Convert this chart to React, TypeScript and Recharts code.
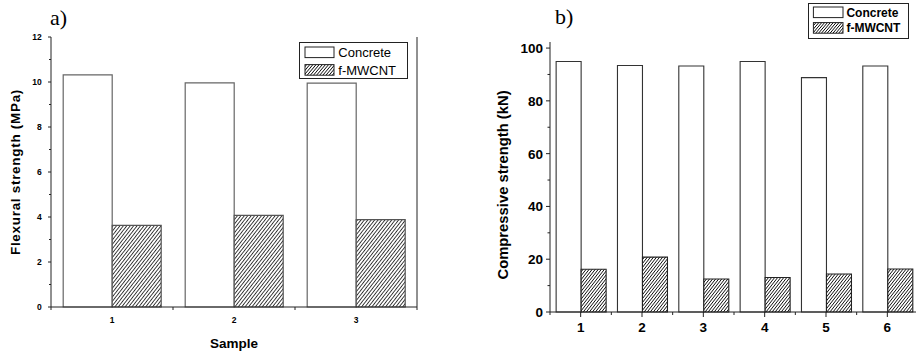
import { BarChart, Bar, XAxis, YAxis, Legend } from 'recharts';

// a) flexural strength
const samplesA = ['1', '2', '3'];
const concreteA = [10.32, 9.96, 9.95];
const mwcntA = [3.63, 4.07, 3.88];
const ticksA = [0, 1, 2, 3, 4, 5, 6, 7, 8, 9, 10, 11, 12];

// b) compressive strength
const samplesB = ['1', '2', '3', '4', '5', '6'];
const concreteB = [94.9, 93.4, 93.2, 94.9, 88.8, 93.2];
const mwcntB = [16.2, 20.8, 12.5, 13.1, 14.4, 16.3];
const ticksB = [0, 10, 20, 30, 40, 50, 60, 70, 80, 90, 100];

const seriesNames = ['Concrete', 'f-MWCNT'];

const dataA = samplesA.map((s, i) => ({ sample: s, concrete: concreteA[i], mwcnt: mwcntA[i] }));
const dataB = samplesB.map((s, i) => ({ sample: s, concrete: concreteB[i], mwcnt: mwcntB[i] }));

const FONT = '"Liberation Sans", Arial, sans-serif';
const AXIS = '#222';

const Hatch = ({ id, w, angle }: { id: string; w: number; angle: number }) => (
  <pattern id={id} patternUnits="userSpaceOnUse" width={w} height={w} patternTransform={`rotate(${angle})`}>
    <rect width={w} height={w} fill="#fff" />
    <line x1={w / 2} y1={0} x2={w / 2} y2={w} stroke="#000" strokeWidth={0.75} />
  </pattern>
);

const leftTick = (major: number, len: number, minor: number, fs: number, gap: number) => (p: any) => {
  const v = p.payload.value;
  const isMajor = v % major === 0;
  return (
    <g>
      <line x1={p.x} x2={p.x - (isMajor ? len : minor)} y1={p.y} y2={p.y} stroke={AXIS} />
      {isMajor && (
        <text x={p.x - gap} y={p.y} dy="0.36em" textAnchor="end" fontSize={fs} fontWeight="bold" fontFamily={FONT} fill="#000">
          {v}
        </text>
      )}
    </g>
  );
};

const rightTick = (major: number, len: number, minor: number) => (p: any) => {
  const isMajor = p.payload.value % major === 0;
  return <line x1={p.x} x2={p.x - (isMajor ? len : minor)} y1={p.y} y2={p.y} stroke={AXIS} />;
};

const bottomTick = (band: number, centerLen: number, edgeLen: number, fs: number, dy: number) => (p: any) => (
  <g>
    {centerLen > 0 && <line x1={p.x} x2={p.x} y1={p.y} y2={p.y + centerLen} stroke={AXIS} />}
    {p.index === 0 && <line x1={p.x - band / 2} x2={p.x - band / 2} y1={p.y} y2={p.y + edgeLen} stroke={AXIS} />}
    <line x1={p.x + band / 2} x2={p.x + band / 2} y1={p.y} y2={p.y + edgeLen} stroke={AXIS} />
    <text x={p.x} y={p.y + dy} textAnchor="middle" fontSize={fs} fontWeight="bold" fontFamily={FONT} fill="#000">
      {p.payload.value}
    </text>
  </g>
);

const topTick = (band: number, len: number) => (p: any) => (
  <g>
    <line x1={p.x} x2={p.x} y1={p.y} y2={p.y + len} stroke={AXIS} />
    <line x1={p.x + band / 2} x2={p.x + band / 2} y1={p.y} y2={p.y + len} stroke={AXIS} />
  </g>
);

const YTitle = ({ viewBox, text, cx, dy, fs, ls = 0 }: any) => {
  const x = viewBox.x + cx;
  const y = viewBox.y + viewBox.height / 2 + dy;
  return (
    <text x={x} y={y} transform={`rotate(-90 ${x} ${y})`} textAnchor="middle" dominantBaseline="central"
      fontSize={fs} fontWeight="bold" fontFamily={FONT} fill="#000" letterSpacing={ls}>
      {text}
    </text>
  );
};

const XTitle = ({ viewBox, text, dy, fs }: any) => (
  <text x={viewBox.x + viewBox.width / 2} y={viewBox.y + dy} textAnchor="middle"
    fontSize={fs} fontWeight="bold" fontFamily={FONT} fill="#000">
    {text}
  </text>
);

const LegendBox = ({ w, h, sx, sw, sh, rows, tx, fs, weight, hatchW }: any) => (
  <svg width={w} height={h} style={{ display: 'block' }}>
    <defs>
      <Hatch id={`lg${hatchW}`} w={hatchW} angle={40} />
    </defs>
    <rect x={0.5} y={0.5} width={w - 1} height={h - 1} fill="#fff" stroke={AXIS} />
    {seriesNames.map((n, i) => (
      <g key={n}>
        <rect x={sx} y={rows[i]} width={sw} height={sh} fill={i === 0 ? '#fff' : `url(#lg${hatchW})`} stroke={AXIS} />
        <text x={tx} y={rows[i] + sh / 2} dy="0.36em" fontSize={fs} fontWeight={weight} fontFamily={FONT} fill="#000">
          {n}
        </text>
      </g>
    ))}
  </svg>
);

export default function App() {
  return (
    <div style={{ position: 'fixed', left: 0, top: 0, width: 916, height: 353, overflow: 'hidden', background: '#fff' }}>
      <svg width={916} height={353} style={{ position: 'absolute', left: 0, top: 0 }}>
        <text x={50} y={25} fontSize={22} fontFamily='"Liberation Serif", "Times New Roman", serif'>a)</text>
        <text x={555} y={24} fontSize={22} fontFamily='"Liberation Serif", "Times New Roman", serif'>b)</text>
      </svg>

      <div style={{ position: 'absolute', left: 0, top: 0 }}>
        <BarChart width={460} height={353} data={dataA} margin={{ top: 37, right: 0, bottom: 0, left: 0 }}
          barCategoryGap="10%" barGap={0}>
          <defs>
            <Hatch id="hatchA" w={2.7} angle={38} />
          </defs>
          <XAxis dataKey="sample" height={46} interval={0} tickSize={0} tickMargin={0} tickLine={false}
            axisLine={{ stroke: AXIS }} tick={bottomTick(122, 0, 3, 8.5, 15.9)}
            label={<XTitle text="Sample" dy={40.7} fs={13.5} />} />
          <XAxis xAxisId="t" orientation="top" dataKey="sample" height={0} interval={0} tickSize={0} tickMargin={0}
            tickLine={false} axisLine={{ stroke: AXIS }} tick={topTick(122, 2)} />
          <YAxis type="number" domain={[0, 12]} ticks={ticksA} width={51} interval={0} tickSize={0} tickMargin={0}
            tickLine={false} axisLine={{ stroke: AXIS }} tick={leftTick(2, 3, 2, 8.5, 9.3)}
            label={<YTitle text="Flexural strength (MPa)" cx={15} dy={0} fs={13.5} ls={0.7} />} />
          <YAxis yAxisId="r" orientation="right" type="number" domain={[0, 12]} ticks={ticksA} width={43} interval={0}
            tickSize={0} tickMargin={0} tickLine={false} axisLine={{ stroke: AXIS }} tick={rightTick(2, 3, 3)} />
          <Legend layout="horizontal" verticalAlign="middle" align="center"
            wrapperStyle={{ left: 299, top: 41.7, width: 109, height: 37 }}
            content={() => <LegendBox w={109} h={37} sx={6} sw={29} sh={10.6} rows={[5, 22.6]} tx={39.3} fs={13} weight="normal" hatchW={2.4} />} />
          <Bar dataKey="concrete" name={seriesNames[0]} fill="#fff" stroke="#666" strokeWidth={1.2} isAnimationActive={false} />
          <Bar dataKey="mwcnt" name={seriesNames[1]} fill="url(#hatchA)" stroke="#555" strokeWidth={1.2} isAnimationActive={false} />
        </BarChart>
      </div>

      <div style={{ position: 'absolute', left: 460, top: 0 }}>
        <BarChart width={470} height={353} data={dataB} margin={{ top: 42, right: 0, bottom: 0, left: 0 }}
          barCategoryGap="10%" barGap={0}>
          <defs>
            <Hatch id="hatchB" w={2.4} angle={38} />
          </defs>
          <XAxis dataKey="sample" height={41} interval={0} tickSize={0} tickMargin={0} tickLine={false}
            axisLine={{ stroke: AXIS }} tick={bottomTick(368 / 6, 5, 3, 13.5, 19.8)} />
          <XAxis xAxisId="t" orientation="top" dataKey="sample" height={0} interval={0} tickSize={0} tickMargin={0}
            tickLine={false} axisLine={{ stroke: AXIS }} tick={topTick(368 / 6, 3)} />
          <YAxis type="number" domain={[0, 102.3]} ticks={ticksB} width={90} interval={0} tickSize={0} tickMargin={0}
            tickLine={false} axisLine={{ stroke: AXIS }} tick={leftTick(20, 4, 2.5, 13.5, 7)}
            label={<YTitle text="Compressive strength (kN)" cx={42.7} dy={8} fs={14.8} />} />
          <YAxis yAxisId="r" orientation="right" type="number" domain={[0, 102.3]} ticks={ticksB} width={12} interval={0}
            tickSize={0} tickMargin={0} tickLine={false} axisLine={{ stroke: AXIS }} tick={rightTick(20, 6, 3)} />
          <Legend layout="horizontal" verticalAlign="middle" align="center"
            wrapperStyle={{ left: 348.3, top: 2.7, width: 101, height: 36 }}
            content={() => <LegendBox w={101} h={36} sx={5.4} sw={29.6} sh={10.6} rows={[4, 19.6]} tx={38.4} fs={12} weight="bold" hatchW={2.2} />} />
          <Bar dataKey="concrete" name={seriesNames[0]} fill="#fff" stroke="#333" strokeWidth={1.1} isAnimationActive={false} />
          <Bar dataKey="mwcnt" name={seriesNames[1]} fill="url(#hatchB)" stroke="#222" strokeWidth={1.1} isAnimationActive={false} />
        </BarChart>
      </div>
    </div>
  );
}
